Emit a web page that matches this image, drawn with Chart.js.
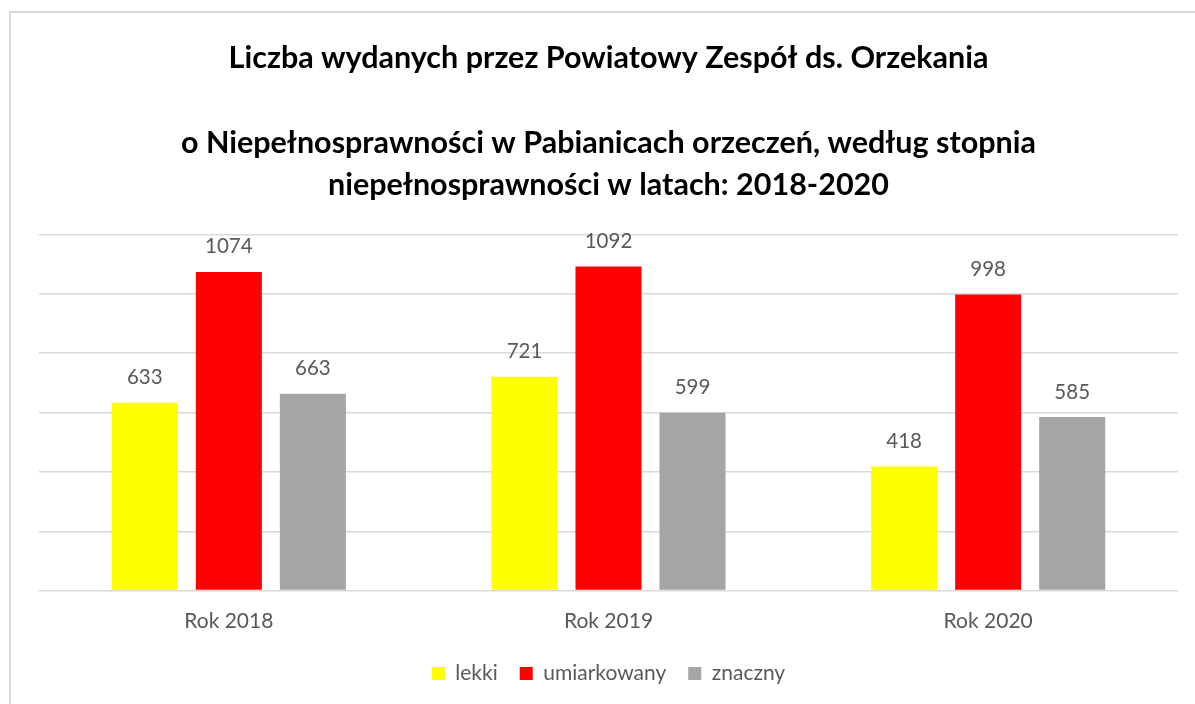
<!DOCTYPE html>
<html>
<head>
<meta charset="utf-8">
<script src="https://cdn.jsdelivr.net/npm/chart.js@4.4.0/dist/chart.umd.min.js"></script>
<style>
  html, body { margin: 0; padding: 0; background: #fff; overflow: hidden; }
  #frame { position: absolute; left: 9px; top: 11px; width: 1400px; height: 900px; border-left: 2px solid #d9d9d9; border-top: 2px solid #d9d9d9; }
  #wrap { position: absolute; left: 0; top: 0; width: 1195px; height: 704px; }
</style>
</head>
<body>
<div id="frame"></div>
<div id="wrap"><canvas id="c" width="1195" height="704"></canvas></div>
<script>
const categories = ["Rok 2018", "Rok 2019", "Rok 2020"];
const seriesNames = ["lekki", "umiarkowany", "znaczny"];
const lekki = [633, 721, 418];
const umiarkowany = [1074, 1092, 998];
const znaczny = [663, 599, 585];
const titleLines = [
  "Liczba wydanych przez Powiatowy Zespół ds. Orzekania",
  "",
  "o Niepełnosprawności w Pabianicach orzeczeń, według stopnia",
  "niepełnosprawności w latach: 2018-2020"
];
const colors = ["#FFFF00", "#FF0000", "#A5A5A5"];
const FONT = "Lato";

const valueLabels = {
  id: "valueLabels",
  afterDatasetsDraw(chart) {
    const ctx = chart.ctx;
    ctx.save();
    ctx.font = "20.5px " + FONT;
    ctx.fillStyle = "#595959";
    ctx.textAlign = "center";
    ctx.textBaseline = "middle";
    chart.data.datasets.forEach((ds, i) => {
      const meta = chart.getDatasetMeta(i);
      meta.data.forEach((bar, j) => {
        ctx.fillText(String(ds.data[j]), bar.x, bar.y - 25);
      });
    });
    ctx.restore();
  }
};

new Chart(document.getElementById("c"), {
  type: "bar",
  data: {
    labels: categories,
    datasets: [
      { label: seriesNames[0], data: lekki, backgroundColor: colors[0] },
      { label: seriesNames[1], data: umiarkowany, backgroundColor: colors[1] },
      { label: seriesNames[2], data: znaczny, backgroundColor: colors[2] }
    ]
  },
  options: {
    responsive: false,
    animation: false,
    devicePixelRatio: 1,
    layout: { padding: { left: 39, right: 17, top: 0, bottom: 10 } },
    datasets: { bar: { categoryPercentage: 0.664, barPercentage: 0.786 } },
    scales: {
      x: {
        grid: { display: false, drawTicks: false },
        border: { display: false },
        ticks: { color: "#595959", font: { family: FONT, size: 21 }, padding: 18 },
        afterFit: s => { s.height = 50.4; }
      },
      y: {
        min: 0, max: 1200,
        ticks: { display: false, stepSize: 200 },
        grid: { color: "#d9d9d9", lineWidth: 1.5, drawTicks: false },
        border: { display: false },
        afterFit: s => { s.width = 0; }
      }
    },
    plugins: {
      tooltip: { enabled: false },
      title: {
        display: true,
        text: titleLines,
        color: "#000",
        font: { family: FONT, size: 30.5, weight: "bold", lineHeight: 42.5 / 30.5 },
        padding: { top: 36.75, bottom: 27.75 }
      },
      legend: {
        position: "bottom",
        labels: {
          color: "#595959",
          font: { family: FONT, size: 21 },
          boxWidth: 13, boxHeight: 13,
          padding: 22
        }
      }
    }
  },
  plugins: [valueLabels]
});
</script>
</body>
</html>
